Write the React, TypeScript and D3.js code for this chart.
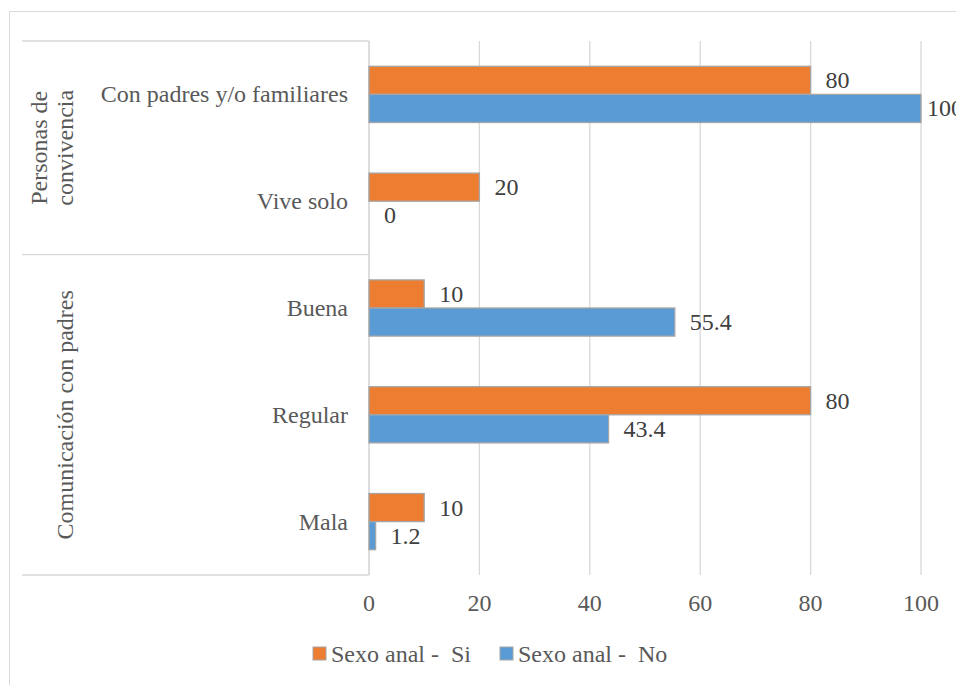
import React from "react";
import * as d3 from "d3";

const categories = ["Con padres y/o familiares", "Vive solo", "Buena", "Regular", "Mala"];
const groups = [
  { lines: ["Personas de", "convivencia"], from: 0, to: 1 },
  { lines: ["Comunicación con padres"], from: 2, to: 4 },
];
const seriesNames = ["Sexo anal -  Si", "Sexo anal -  No"];
const siValues = [80, 20, 10, 80, 10];
const noValues = [100, 0, 55.4, 43.4, 1.2];
const xTicks = [0, 20, 40, 60, 80, 100];
const colors = ["#ED7D31", "#5B9BD5"];

const W = 956;
const H = 685;
const TXT = "#595959";
const GRID = "#d9d9d9";

export default function App() {
  const x = d3.scaleLinear().domain([0, 100]).range([369, 921]);
  const y = d3.scaleBand<string>().domain(categories).range([41, 575]).padding(0);
  const bw = y.bandwidth();
  const sub = d3
    .scaleBand<string>()
    .domain(seriesNames)
    .range([0, bw])
    .paddingInner(0)
    .paddingOuter(0.9);
  const series = [siValues, noValues];
  const ts = { fontFamily: '"Liberation Serif"', fontSize: 24 };

  return (
    <svg width={W} height={H} style={{ position: "absolute", left: 0, top: 0 }}>
      <rect x={0} y={0} width={W} height={H} fill="#fff" />
      <line x1={9.5} y1={11.5} x2={W} y2={11.5} stroke={GRID} strokeWidth={1} />
      <line x1={9.5} y1={11.5} x2={9.5} y2={H} stroke={GRID} strokeWidth={1} />

      {xTicks.map((t) => (
        <line key={"g" + t} x1={x(t)} x2={x(t)} y1={41} y2={575} stroke={GRID} strokeWidth={1.3} />
      ))}

      {[41, y(categories[2])!, 575].map((yy, i) => (
        <line key={"h" + i} x1={22} x2={x(0)} y1={yy} y2={yy} stroke={GRID} strokeWidth={1.3} />
      ))}
      <line x1={x(0)} x2={x(0)} y1={41} y2={575} stroke={GRID} strokeWidth={1.3} />

      {series.map((vals, si) =>
        categories.map((c, ci) => {
          const y0 = y(c)! + sub(seriesNames[si])!;
          const v = vals[ci];
          return v > 0 ? (
            <rect
              key={"b" + si + "-" + ci}
              x={x(0)}
              y={y0}
              width={x(v) - x(0)}
              height={sub.bandwidth()}
              fill={colors[si]}
              stroke="#a6a6a6"
              strokeWidth={1.3}
            />
          ) : null;
        })
      )}

      {series.map((vals, si) =>
        categories.map((c, ci) => {
          const y0 = y(c)! + sub(seriesNames[si])! + sub.bandwidth() / 2;
          const v = vals[ci];
          const lx = Math.min(x(v) + 15, W - 29);
          return (
            <text key={"l" + si + "-" + ci} x={lx} y={y0 + 8} style={ts} fill="#404040">
              {String(v)}
            </text>
          );
        })
      )}

      {categories.map((c) => (
        <text key={"c" + c} x={348} y={y(c)! + bw / 2 + 8} textAnchor="end" style={ts} fill={TXT}>
          {c}
        </text>
      ))}

      {groups.map((g, gi) => {
        const top = y(categories[g.from])!;
        const bot = y(categories[g.to])! + bw;
        const cy = (top + bot) / 2;
        const lh = 26;
        const cx = g.lines.length === 1 ? 65 : 39;
        return (
          <g key={"grp" + gi} transform={`translate(${cx},${cy}) rotate(-90)`}>
            {g.lines.map((ln, li) => (
              <text key={li} x={0} y={li * lh + 8} textAnchor="middle" style={ts} fill={TXT}>
                {ln}
              </text>
            ))}
          </g>
        );
      })}

      {xTicks.map((t) => (
        <text key={"t" + t} x={x(t)} y={611} textAnchor="middle" style={ts} fill={TXT}>
          {t}
        </text>
      ))}

      {seriesNames.map((s, i) => {
        const lx = [313, 500][i];
        return (
          <g key={"lg" + i}>
            <rect x={lx} y={647} width={13} height={13} fill={colors[i]} stroke="#a6a6a6" strokeWidth={1} />
            <text x={lx + 18} y={662} style={ts} fill={TXT} xmlSpace="preserve">
              {s}
            </text>
          </g>
        );
      })}
    </svg>
  );
}
